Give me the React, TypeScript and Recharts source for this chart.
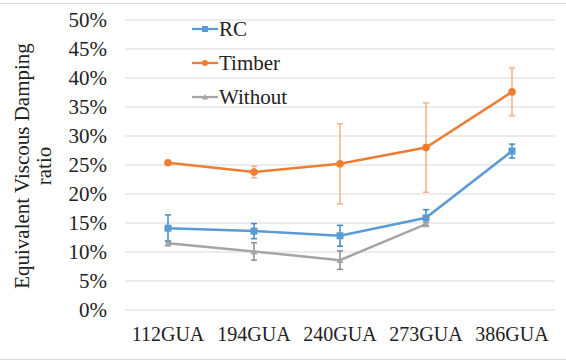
import React from 'react';
import { LineChart, Line, XAxis, YAxis, CartesianGrid, ErrorBar } from 'recharts';

const categories = ['112GUA', '194GUA', '240GUA', '273GUA', '386GUA'];
const rcValues = [14.1, 13.6, 12.8, 15.9, 27.4];
const rcErrors = [2.3, 1.3, 1.8, 1.4, 1.2];
const timberValues = [25.4, 23.8, 25.2, 28.0, 37.6];
const timberErrors = [0, 1.0, 6.9, 7.7, 4.1];
const withoutValues = [11.5, 10.1, 8.6, 14.8, null];
const withoutErrors = [0.4, 1.5, 1.6, 0.3, 0];
const yTicks = [0, 5, 10, 15, 20, 25, 30, 35, 40, 45, 50];

const RC_COLOR = '#5B9BD5';
const TIMBER_COLOR = '#ED7D31';
const WITHOUT_COLOR = '#A5A5A5';
const FONT = 'Liberation Serif, serif';

const data = categories.map((name, i) => ({
  name,
  rc: rcValues[i],
  rcErr: rcErrors[i],
  timber: timberValues[i],
  timberErr: timberErrors[i],
  without: withoutValues[i],
  withoutErr: withoutErrors[i],
}));

const SquareDot = (props: any) => {
  const { cx, cy } = props;
  if (cx == null || cy == null) return null;
  return <rect x={cx - 3.5} y={cy - 3.5} width={7} height={7} fill={RC_COLOR} />;
};

const CircleDot = (props: any) => {
  const { cx, cy } = props;
  if (cx == null || cy == null) return null;
  return <circle cx={cx} cy={cy} r={3.8} fill={TIMBER_COLOR} />;
};

const TriangleDot = (props: any) => {
  const { cx, cy } = props;
  if (cx == null || cy == null) return null;
  return <polygon points={`${cx},${cy - 3.5} ${cx + 3.5},${cy + 3} ${cx - 3.5},${cy + 3}`} fill={WITHOUT_COLOR} />;
};

const legendItems = [
  { label: 'RC', color: RC_COLOR, shape: 'square' },
  { label: 'Timber', color: TIMBER_COLOR, shape: 'circle' },
  { label: 'Without', color: WITHOUT_COLOR, shape: 'triangle' },
];

const ChartLegend = () => (
  <div style={{ position: 'absolute', left: 192, top: 12, fontFamily: FONT, fontSize: 21, color: '#222' }}>
    {legendItems.map((it) => (
      <div key={it.label} style={{ display: 'flex', alignItems: 'center', height: 34 }}>
        <svg width={26} height={10} style={{ marginRight: 1 }}>
          <line x1={0} y1={5} x2={26} y2={5} stroke={it.color} strokeWidth={2.25} />
          {it.shape === 'square' && <rect x={10} y={2} width={6} height={6} fill={it.color} />}
          {it.shape === 'circle' && <circle cx={13} cy={5} r={3} fill={it.color} />}
          {it.shape === 'triangle' && <polygon points="13,2 16,7.5 10,7.5" fill={it.color} />}
        </svg>
        <span>{it.label}</span>
      </div>
    ))}
  </div>
);

const AxisTitle = () => (
  <svg width={70} height={361} style={{ position: 'absolute', left: 0, top: 0 }}>
    <text x={29} y={166} transform="rotate(-90 29 166)" textAnchor="middle" fontFamily={FONT} fontSize={21} fill="#222">
      Equivalent Viscous Damping
    </text>
    <text x={51} y={166} transform="rotate(-90 51 166)" textAnchor="middle" fontFamily={FONT} fontSize={21} fill="#222">
      ratio
    </text>
  </svg>
);

export default function App() {
  return (
    <div style={{ position: 'absolute', left: 0, top: 0, width: 566, height: 361, background: '#fff', fontFamily: FONT }}>
      <div style={{ position: 'absolute', left: 0, top: 3, width: 566, height: 355, borderTop: '1px solid #d9d9d9', borderBottom: '1px solid #d9d9d9' }} />
      <LineChart
        width={566}
        height={361}
        data={data}
        margin={{ top: 20, right: 11, left: 0, bottom: 0 }}
        style={{ position: 'absolute', left: 0, top: 0 }}
      >
        <CartesianGrid vertical={false} stroke="#d9d9d9" strokeWidth={1.2} />
        <XAxis
          dataKey="name"
          axisLine={false}
          tickLine={false}
          tickSize={0}
          tickMargin={17}
          height={51}
          interval={0}
          padding={{ left: 43, right: 43 }}
          tick={{ fontFamily: FONT, fontSize: 20, fill: '#222' }}
        />
        <YAxis
          domain={[0, 50]}
          ticks={yTicks}
          interval={0}
          width={125}
          axisLine={false}
          tickLine={false}
          tickSize={0}
          tickMargin={18}
          tickFormatter={(v: number) => `${v}%`}
          tick={{ fontFamily: FONT, fontSize: 21, fill: '#222' }}
        />
        <Line dataKey="without" stroke={WITHOUT_COLOR} strokeWidth={2.5} dot={<TriangleDot />} isAnimationActive={false}>
          <ErrorBar dataKey="withoutErr" width={3} stroke="#8c8c8c" strokeWidth={1.5} />
        </Line>
        <Line dataKey="timber" stroke={TIMBER_COLOR} strokeWidth={2.5} dot={<CircleDot />} isAnimationActive={false}>
          <ErrorBar dataKey="timberErr" width={3} stroke="#F4B183" strokeWidth={1.5} />
        </Line>
        <Line dataKey="rc" stroke={RC_COLOR} strokeWidth={2.5} dot={<SquareDot />} isAnimationActive={false}>
          <ErrorBar dataKey="rcErr" width={3} stroke="#3C8AD0" strokeWidth={1.5} />
        </Line>
      </LineChart>
      <AxisTitle />
      <ChartLegend />
    </div>
  );
}
